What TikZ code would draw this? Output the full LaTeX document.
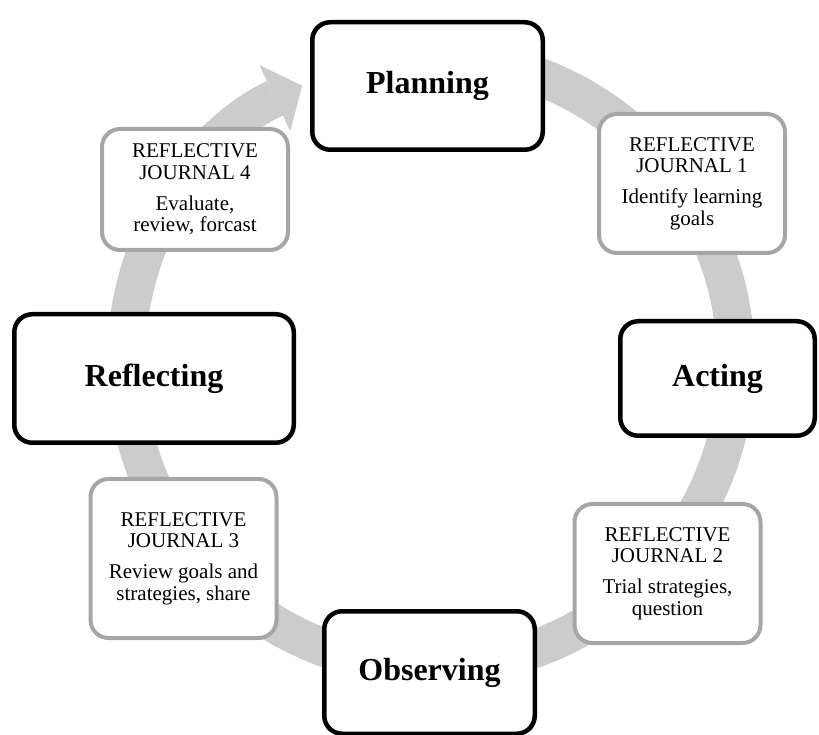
\documentclass[tikz,border=0pt]{standalone}
\usepackage{fontspec}
\setmainfont{Liberation Serif}
\usetikzlibrary{arrows.meta}
\definecolor{band}{RGB}{204,204,204}
\definecolor{rim}{RGB}{166,166,166}
\tikzset{
  stage/.style={draw=black, line width=4.5pt, rounded corners=18pt, fill=white, align=center, inner sep=0pt, font=\fontsize{32}{36}\selectfont\bfseries},
  jrnl/.style={draw=rim, line width=4pt, rounded corners=18pt, fill=white, align=center, inner sep=0pt, minimum width=186pt, font=\fontsize{21}{21.5}\selectfont},
  ring/.style={draw=band, line width=38pt, -{Triangle[length=30pt, width=73pt, line width=0pt]}}
}

\begin{document}
\begin{tikzpicture}[x=1pt, y=1pt]
\useasboundingbox (0,0) rectangle (819,734);
\coordinate (hub) at (431,372);
% the cycle band behind the boxes
\draw[ring] (hub) ++(90:305pt) arc[start angle=90, end angle=-245, radius=305pt];
% stages
\node[stage, minimum width=230.5pt, minimum height=127.5pt] (plan) at (427.5,648) {Planning};
\node[stage, minimum width=194.5pt, minimum height=114.5pt] (act) at (717.5,355.5) {Acting};
\node[stage, minimum width=210.5pt, minimum height=122.5pt] (obs) at (429.5,61.5) {Observing};
\node[stage, minimum width=279.5pt, minimum height=128.5pt] (refl) at (154,355.5) {Reflecting};
% journals
\node[jrnl, minimum height=139pt] (j1) at (692,550.5) {REFLECTIVE\\JOURNAL 1\\[9.5pt]Identify learning\\goals};
\node[jrnl, minimum height=139pt] (j2) at (667.5,160.5) {REFLECTIVE\\JOURNAL 2\\[9.5pt]Trial strategies,\\question};
\node[jrnl, minimum height=159pt] (j3) at (183.5,175.5) {REFLECTIVE\\JOURNAL 3\\[9.5pt]Review goals and\\strategies, share};
\node[jrnl, minimum height=121pt] (j4) at (195,544.5) {REFLECTIVE\\JOURNAL 4\\[9.5pt]Evaluate,\\review, forcast};
\end{tikzpicture}
\end{document}
